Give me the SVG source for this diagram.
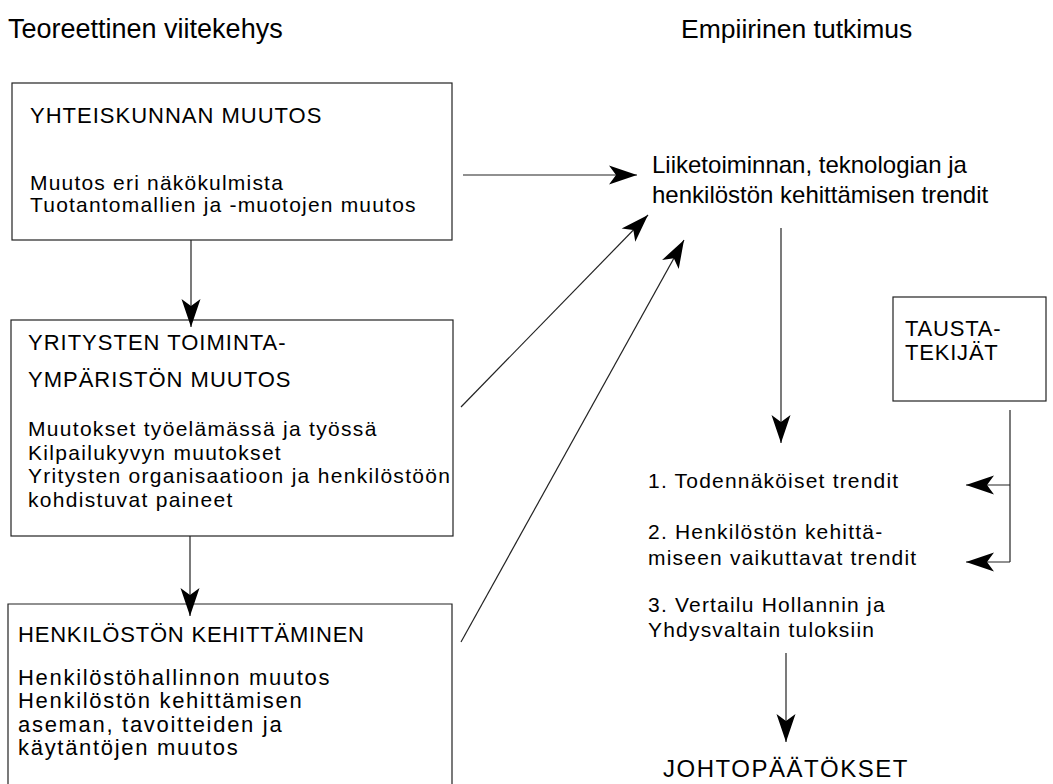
<svg xmlns="http://www.w3.org/2000/svg" width="1053" height="784" viewBox="0 0 1053 784">
<style>
text{font-family:"Liberation Sans",Arial,sans-serif;fill:#000}
.hdr{font-size:27px}
.ttl{font-size:22px;letter-spacing:1px}
.body{font-size:21px;letter-spacing:1.2px}
.b3{font-size:22px;letter-spacing:1.7px}
.trend{font-size:24px}
.big{font-size:24px;letter-spacing:1.5px}
.box{fill:none;stroke:#222;stroke-width:1.2}
.con{fill:none;stroke:#222;stroke-width:1.2}
</style>
<defs>
<marker id="ah" markerUnits="userSpaceOnUse" markerWidth="32" markerHeight="24" viewBox="-30 -12 32 24" refX="0" refY="0" orient="auto">
<path d="M0,0 L-28,-9.5 L-21,0 L-28,9.5 Z" fill="#000"/>
</marker>
</defs>
<rect width="1053" height="784" fill="#fff"/>
<g id="headers">
<text class="hdr" x="8" y="38">Teoreettinen viitekehys</text>
<text class="hdr" x="681" y="38" style="font-size:26.5px">Empiirinen tutkimus</text>
</g>
<g id="box1">
<rect class="box" x="12" y="83" width="440" height="157"/>
<text class="ttl" x="30" y="123">YHTEISKUNNAN MUUTOS</text>
<text class="body" x="30" y="190">Muutos eri näkökulmista</text>
<text class="body" x="30" y="212">Tuotantomallien ja -muotojen muutos</text>
</g>
<g id="box2">
<rect class="box" x="11" y="320" width="442" height="216"/>
<text class="ttl" x="28" y="350">YRITYSTEN TOIMINTA-</text>
<text class="ttl" x="28" y="387">YMPÄRISTÖN MUUTOS</text>
<text class="body" x="28" y="436" style="letter-spacing:1.3px">Muutokset työelämässä ja työssä</text>
<text class="body" x="28" y="460" style="letter-spacing:1.3px">Kilpailukyvyn muutokset</text>
<text class="body" x="28" y="483" style="letter-spacing:1.3px">Yritysten organisaatioon ja henkilöstöön</text>
<text class="body" x="28" y="507" style="letter-spacing:1.3px">kohdistuvat paineet</text>
</g>
<g id="box3">
<path class="box" d="M8,790 V604 H452 V790"/>
<text class="ttl" x="18" y="642" style="letter-spacing:0.8px">HENKILÖSTÖN KEHITTÄMINEN</text>
<text class="b3" x="18" y="685">Henkilöstöhallinnon muutos</text>
<text class="b3" x="18" y="708">Henkilöstön kehittämisen</text>
<text class="b3" x="18" y="732">aseman, tavoitteiden ja</text>
<text class="b3" x="18" y="755">käytäntöjen muutos</text>
</g>
<g id="trends">
<text class="trend" x="652" y="173">Liiketoiminnan, teknologian ja</text>
<text class="trend" x="652" y="203">henkilöstön kehittämisen trendit</text>
</g>
<g id="tausta">
<rect class="box" x="893" y="297" width="153" height="104"/>
<text class="ttl" x="905" y="336" style="letter-spacing:0.8px">TAUSTA-</text>
<text class="ttl" x="905" y="360" style="letter-spacing:0.8px">TEKIJÄT</text>
</g>
<g id="list">
<text class="body" x="648" y="488">1. Todennäköiset trendit</text>
<text class="body" x="648" y="539">2. Henkilöstön kehittä-</text>
<text class="body" x="648" y="565">miseen vaikuttavat trendit</text>
<text class="body" x="648" y="612">3. Vertailu Hollannin ja</text>
<text class="body" x="648" y="637">Yhdysvaltain tuloksiin</text>
</g>
<g id="conclusions">
<text class="big" x="663" y="777">JOHTOPÄÄTÖKSET</text>
</g>
<g id="connectors">
<line class="con" x1="191" y1="240" x2="191" y2="327" marker-end="url(#ah)"/>
<line class="con" x1="190" y1="536" x2="190" y2="616" marker-end="url(#ah)"/>
<line class="con" x1="463" y1="175" x2="637" y2="175" marker-end="url(#ah)"/>
<line class="con" x1="461" y1="407" x2="648" y2="215" marker-end="url(#ah)"/>
<line class="con" x1="461" y1="642" x2="684" y2="240" marker-end="url(#ah)"/>
<line class="con" x1="781" y1="228" x2="781" y2="443" marker-end="url(#ah)"/>
<line class="con" x1="786" y1="653" x2="786" y2="742" marker-end="url(#ah)"/>
<path class="con" d="M1010,410 V562"/>
<line class="con" x1="1010" y1="485" x2="966" y2="485" marker-end="url(#ah)"/>
<line class="con" x1="1010" y1="562" x2="966" y2="562" marker-end="url(#ah)"/>
</g>
</svg>
